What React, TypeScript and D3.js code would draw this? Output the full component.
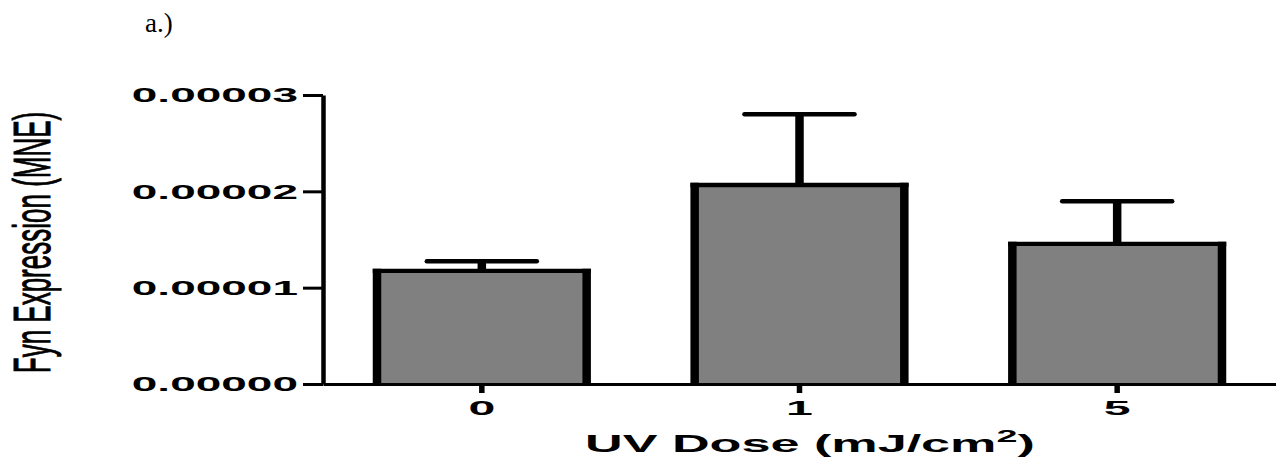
import * as d3 from "d3";
import { useEffect, useRef } from "react";

const doses = ["0", "1", "5"];
const meanExpression = [1.175e-5, 2.066e-5, 1.455e-5];
const semExpression = [0.1e-5, 0.734e-5, 0.442e-5];
const yTicks = [0, 1e-5, 2e-5, 3e-5];

function App() {
	const svgRef = useRef<SVGSVGElement>(null);

	function drawChart() {
		const svg = d3.select(svgRef.current);
		svg.selectAll("*").remove();

		const width = 1276;
		const stretch = 2.3;
		const boldFont = "'Liberation Sans', Arial, Helvetica, sans-serif";

		const xScale = d3
			.scaleBand()
			.domain(doses)
			.range([323, width])
			.paddingInner(0.34)
			.paddingOuter(0.17);
		const yScale = d3.scaleLinear().domain([0, 3e-5]).range([384, 95]);
		const bw = xScale.bandwidth();

		// panel letter
		svg.append("text")
			.attr("x", 145)
			.attr("y", 32)
			.attr("font-family", "'Liberation Serif', 'Times New Roman', serif")
			.attr("font-size", 27)
			.attr("fill", "#000")
			.text("a.)");

		// bars
		const bars = svg
			.append("g")
			.selectAll("g")
			.data(doses)
			.enter()
			.append("g");

		bars.append("rect")
			.attr("x", (d) => xScale(d)!)
			.attr("y", (d, i) => yScale(meanExpression[i]))
			.attr("width", bw)
			.attr("height", (d, i) => yScale(0) - yScale(meanExpression[i]))
			.attr("fill", "#808080");

		bars.append("line")
			.attr("x1", (d) => xScale(d)!)
			.attr("x2", (d) => xScale(d)!)
			.attr("y1", (d, i) => yScale(meanExpression[i]) - 2.15)
			.attr("y2", yScale(0))
			.attr("stroke", "#000")
			.attr("stroke-width", 8.5);
		bars.append("line")
			.attr("x1", (d) => xScale(d)! + bw)
			.attr("x2", (d) => xScale(d)! + bw)
			.attr("y1", (d, i) => yScale(meanExpression[i]) - 2.15)
			.attr("y2", yScale(0))
			.attr("stroke", "#000")
			.attr("stroke-width", 8.5);
		bars.append("line")
			.attr("x1", (d) => xScale(d)! - 4.25)
			.attr("x2", (d) => xScale(d)! + bw + 4.25)
			.attr("y1", (d, i) => yScale(meanExpression[i]))
			.attr("y2", (d, i) => yScale(meanExpression[i]))
			.attr("stroke", "#000")
			.attr("stroke-width", 4.3);

		// error bars (upper only)
		bars.append("line")
			.attr("x1", (d) => xScale(d)! + bw / 2)
			.attr("x2", (d) => xScale(d)! + bw / 2)
			.attr("y1", (d, i) => yScale(meanExpression[i]))
			.attr("y2", (d, i) => yScale(meanExpression[i] + semExpression[i]))
			.attr("stroke", "#000")
			.attr("stroke-width", 8.5);
		bars.append("line")
			.attr("x1", (d) => xScale(d)! + bw / 2 - 55)
			.attr("x2", (d) => xScale(d)! + bw / 2 + 55)
			.attr("y1", (d, i) => yScale(meanExpression[i] + semExpression[i]))
			.attr("y2", (d, i) => yScale(meanExpression[i] + semExpression[i]))
			.attr("stroke", "#000")
			.attr("stroke-width", 4.5)
			.attr("stroke-linecap", "round");

		// y axis
		const yAxis = d3
			.axisLeft(yScale)
			.tickValues(yTicks)
			.tickSize(20)
			.tickSizeOuter(0)
			.tickFormat(() => "");
		const yAxisG = svg
			.append("g")
			.attr("transform", "translate(323,0)")
			.call(yAxis);
		yAxisG.select(".domain").attr("stroke", "#000").attr("stroke-width", 4.5);
		yAxisG.selectAll(".tick line").attr("stroke", "#000").attr("stroke-width", 3);

		svg.append("g")
			.selectAll("text")
			.data(yTicks)
			.enter()
			.append("text")
			.attr("transform", (t) => `translate(298,${yScale(t)}) scale(${stretch},1)`)
			.attr("dy", "0.36em")
			.attr("text-anchor", "end")
			.attr("font-family", boldFont)
			.attr("font-weight", "bold")
			.attr("font-size", 20)
			.attr("fill", "#000")
			.text((t) => d3.format(".5f")(t));

		// x axis
		const xAxis = d3
			.axisBottom(xScale)
			.tickSize(9)
			.tickSizeOuter(0)
			.tickFormat(() => "");
		const xAxisG = svg
			.append("g")
			.attr("transform", `translate(0,${yScale(0)})`)
			.call(xAxis);
		xAxisG.select(".domain").attr("stroke", "#000").attr("stroke-width", 3);
		xAxisG.selectAll(".tick line").attr("stroke", "#000").attr("stroke-width", 5.5);

		svg.append("g")
			.selectAll("text")
			.data(doses)
			.enter()
			.append("text")
			.attr("transform", (d) => `translate(${xScale(d)! + bw / 2},415) scale(${stretch},1)`)
			.attr("text-anchor", "middle")
			.attr("font-family", boldFont)
			.attr("font-weight", "bold")
			.attr("font-size", 21)
			.attr("fill", "#000")
			.text((d) => d);

		// axis titles
		const xTitle = svg
			.append("text")
			.attr("transform", `translate(585,452) scale(2.22,1)`)
			.attr("font-family", boldFont)
			.attr("font-weight", "bold")
			.attr("font-size", 23.5)
			.attr("fill", "#000");
		xTitle.append("tspan").text("UV Dose (mJ/cm");
		xTitle.append("tspan").attr("font-size", 17).attr("dy", -10).text("2");
		xTitle.append("tspan").attr("dy", 10).text(")");

		svg.append("text")
			.attr("transform", "translate(50,242.5) rotate(-90) scale(1,1.97)")
			.attr("text-anchor", "middle")
			.attr("font-family", "'Liberation Sans', Arial, sans-serif")
			.attr("font-size", 26)
			.attr("fill", "#000")
			.attr("stroke", "#000")
			.attr("stroke-width", 0.5)
			.text("Fyn Expression (MNE)");
	}

	useEffect(() => {
		drawChart();
	}, []);

	return (
		<svg
			ref={svgRef}
			width={1276}
			height={457}
			style={{ position: "absolute", left: 0, top: 0, background: "#fff" }}
		></svg>
	);
}

export default App;
